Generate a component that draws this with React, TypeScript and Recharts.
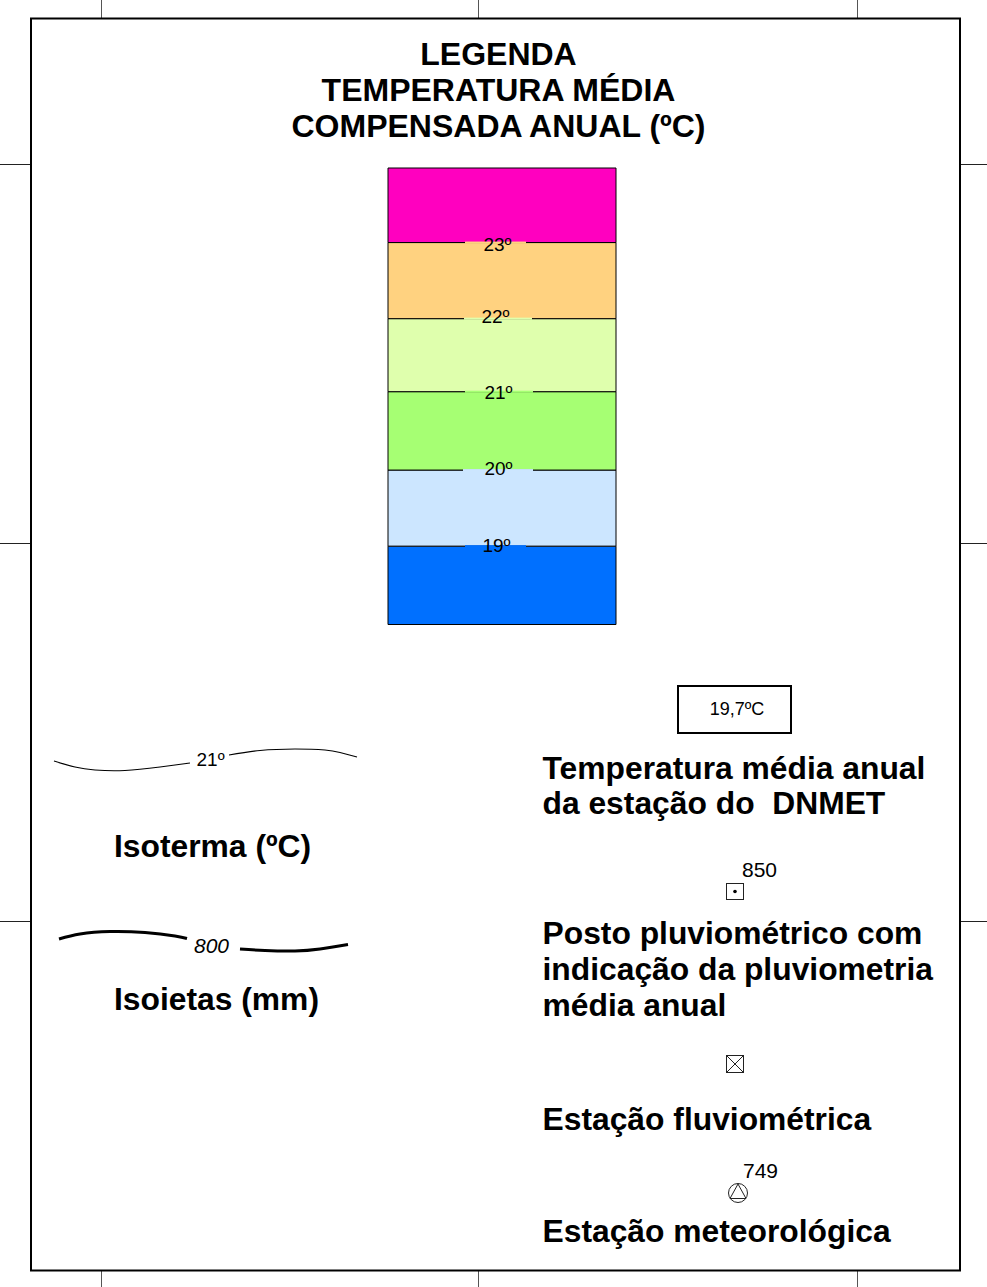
import React from 'react';
import { BarChart, Bar, LineChart, Line, XAxis, YAxis, LabelList } from 'recharts';

const FONT = '"Liberation Sans", Arial, sans-serif';

// bottom to top
const bandLabels = ['19º', '20º', '21º', '22º', '23º'];
const bandSpans = [1.03, 1.0, 1.03, 0.96, 1.0, 0.98];
const bandColors = ['#0070FF', '#CCE6FF', '#A6FF73', '#DFFFAD', '#FFD280', '#FF00BF'];
const labelGap = [[77, 138], [75, 145], [77, 145], [76, 144], [77, 138]];
const labelX = [108.5, 110.5, 110.5, 107.5, 109.5];
const labelY = [-1, -2, 1, -2, 2];

const isothermLeftX = [14, 35, 55, 85, 120, 150];
const isothermLeftY = [24, 18, 15, 14.5, 18, 22];
const isothermRightX = [189, 220, 255, 285, 300, 317];
const isothermRightY = [30, 34.5, 36, 35, 32.5, 28];

const isohyetLeftX = [19, 40, 70, 105, 135, 147];
const isohyetLeftY = [31, 36, 38.5, 37.5, 34, 31.5];
const isohyetRightX = [200, 225, 255, 280, 308];
const isohyetRightY = [21, 19.5, 19, 21, 25.5];

const bandRow = [Object.fromEntries(bandSpans.map((v, i) => [`band${i}`, v]))];
const toRows = (xs: number[], ys: number[]) => xs.map((x, i) => ({ x, y: ys[i] }));

const cropX = [101, 478, 857];
const cropY = [164, 543, 921];

const Txt = ({ x, y, size = 31.8, bold = false, italic = false, anchor = 'start', children }: any) => (
  <text
    x={x}
    y={y}
    fontFamily={FONT}
    fontSize={size}
    fontWeight={bold ? 700 : 400}
    fontStyle={italic ? 'italic' : 'normal'}
    textAnchor={anchor}
    fill="#000"
    style={{ whiteSpace: 'pre' }}
  >
    {children}
  </text>
);

const BandLabel = (index: number) => (props: any) => {
  const { x, y, height } = props;
  const edge = y + height;
  const gap = labelGap[index];
  return (
    <g>
      <rect x={x + gap[0]} y={edge - 1} width={gap[1] - gap[0]} height={2} fill={bandColors[index]} />
      <text
        x={x + labelX[index]}
        y={edge + 6.5 + labelY[index]}
        fontFamily={FONT}
        fontSize={19}
        textAnchor="middle"
        fill="#000"
      >
        {bandLabels[index]}
      </text>
    </g>
  );
};

const Contour = ({ left, top, width, height, parts, strokeWidth }: any) => (
  <div style={{ position: 'absolute', left, top }}>
    <LineChart width={width} height={height} margin={{ top: 0, right: 0, bottom: 0, left: 0 }}>
      <XAxis type="number" dataKey="x" domain={[0, width]} hide />
      <YAxis type="number" dataKey="y" domain={[0, height]} hide />
      {parts.map((rows: any[], i: number) => (
        <Line
          key={i}
          data={rows}
          dataKey="y"
          type="natural"
          stroke="#000"
          strokeWidth={strokeWidth}
          dot={false}
          isAnimationActive={false}
        />
      ))}
    </LineChart>
  </div>
);

export default function App() {
  return (
    <div style={{ position: 'absolute', left: 0, top: 0, width: 987, height: 1287, background: '#fff', overflow: 'hidden' }}>
      <svg width={987} height={1287} style={{ position: 'absolute', left: 0, top: 0 }}>
        {cropX.map((x) => (
          <g key={x} stroke="#555" strokeWidth={1}>
            <line x1={x + 0.5} x2={x + 0.5} y1={0} y2={18} />
            <line x1={x + 0.5} x2={x + 0.5} y1={1271} y2={1287} />
          </g>
        ))}
        {cropY.map((y) => (
          <g key={y} stroke="#222" strokeWidth={1}>
            <line x1={0} x2={30} y1={y + 0.5} y2={y + 0.5} />
            <line x1={960} x2={987} y1={y + 0.5} y2={y + 0.5} />
          </g>
        ))}
        <rect x={31} y={18.5} width={929} height={1252} fill="#fff" stroke="#000" strokeWidth={2} />

        <Txt x={498.5} y={64.5} size={32} bold anchor="middle">LEGENDA</Txt>
        <Txt x={498.5} y={100.5} size={32} bold anchor="middle">TEMPERATURA MÉDIA</Txt>
        <Txt x={498.5} y={136.5} size={32} bold anchor="middle">COMPENSADA ANUAL (ºC)</Txt>

        <rect x={678} y={686} width={113} height={47} fill="#fff" stroke="#000" strokeWidth={2} />
        <Txt x={737} y={715} size={18} anchor="middle">19,7ºC</Txt>

        <Txt x={542.5} y={779} bold>Temperatura média anual</Txt>
        <Txt x={542.5} y={814} bold>da estação do  DNMET</Txt>
        <Txt x={542.5} y={944} bold>Posto pluviométrico com</Txt>
        <Txt x={542.5} y={980} bold>indicação da pluviometria</Txt>
        <Txt x={542.5} y={1016} bold>média anual</Txt>
        <Txt x={542.5} y={1130} bold>Estação fluviométrica</Txt>
        <Txt x={542.5} y={1242} bold>Estação meteorológica</Txt>

        <Txt x={114} y={857} bold>Isoterma (ºC)</Txt>
        <Txt x={114} y={1010} bold>Isoietas (mm)</Txt>

        <Txt x={196.5} y={766} size={19}>21º</Txt>
        <Txt x={194} y={953} size={21} italic>800</Txt>
        <Txt x={742} y={877} size={21}>850</Txt>
        <Txt x={743} y={1178} size={21}>749</Txt>

        {/* posto */}
        <rect x={726.5} y={883.5} width={17} height={16} fill="#fff" stroke="#222" />
        <circle cx={735} cy={891.5} r={1.8} fill="#000" />
        {/* fluviometrica */}
        <rect x={726.5} y={1055.5} width={17} height={17} fill="#fff" stroke="#222" />
        <path d="M726.5 1055.5 L743.5 1072.5 M743.5 1055.5 L726.5 1072.5" stroke="#222" fill="none" />
        {/* meteorologica */}
        <circle cx={738} cy={1193} r={9.5} fill="#fff" stroke="#222" />
        <path d="M738 1184 L730 1198.5 L746 1198.5 Z" fill="none" stroke="#222" />
      </svg>

      <Contour
        left={40}
        top={735}
        width={330}
        height={50}
        strokeWidth={1.2}
        parts={[toRows(isothermLeftX, isothermLeftY), toRows(isothermRightX, isothermRightY)]}
      />
      <Contour
        left={40}
        top={920}
        width={330}
        height={50}
        strokeWidth={3}
        parts={[toRows(isohyetLeftX, isohyetLeftY), toRows(isohyetRightX, isohyetRightY)]}
      />

      <div style={{ position: 'absolute', left: 385.5, top: 165.5 }}>
        <BarChart
          width={231.5}
          height={460.5}
          data={bandRow}
          barCategoryGap={0}
          margin={{ top: 2, right: 2, bottom: 2, left: 2 }}
        >
          <XAxis type="category" hide />
          <YAxis type="number" domain={[0, 6]} hide />
          {bandColors.map((color, i) => (
            <Bar
              key={i}
              dataKey={`band${i}`}
              stackId="scale"
              fill={color}
              stroke="#000"
              strokeWidth={1}
              isAnimationActive={false}
            >
              {i > 0 && <LabelList dataKey={`band${i}`} content={BandLabel(i - 1)} />}
            </Bar>
          ))}
        </BarChart>
      </div>
    </div>
  );
}
